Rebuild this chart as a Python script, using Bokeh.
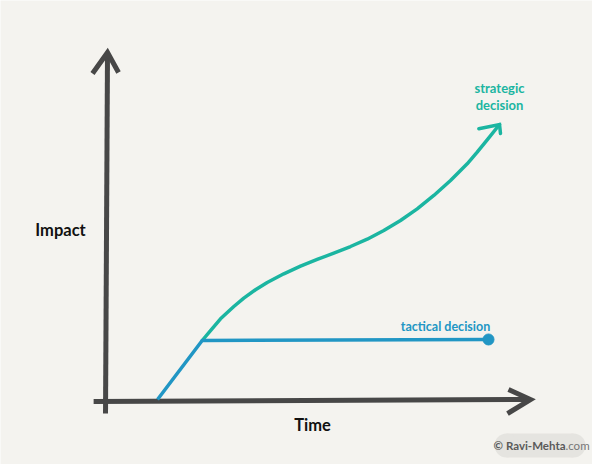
from bokeh.plotting import figure
from bokeh.models import ColumnDataSource, Range1d
from bokeh.core.properties import value
from bokeh.embed import file_html
from bokeh.resources import INLINE

# ---- data (time 0..10, impact 0..10) ----
strategic_time = [2.275, 2.471, 2.706, 3.019, 3.254, 3.529, 3.805, 4.195, 4.588, 4.981, 5.372,
                  5.765, 6.158, 6.548, 6.941, 7.334, 7.725, 8.118, 8.511, 8.746, 8.981, 9.271]
strategic_impact = [1.748, 2.034, 2.370, 2.722, 2.960, 3.201, 3.410, 3.659, 3.877, 4.069, 4.249,
                    4.441, 4.650, 4.900, 5.186, 5.521, 5.903, 6.332, 6.811, 7.143, 7.499, 7.937]
strategic_head_x = [8.784, 9.271, 9.294]
strategic_head_y = [7.817, 7.937, 7.679]

tactical_time = [1.224, 2.275, 9.012]
tactical_impact = [0.057, 1.748, 1.777]

y_axis_x = [0.0, 0.047]
y_axis_y = [-0.344, 10.0]
y_head_x = [-0.306, 0.047, 0.306]
y_head_y = [9.398, 10.0, 9.427]

x_axis_x = [-0.28, 10.0]
x_axis_y = [0.0, 0.057]
x_head_x = [9.482, 10.0, 9.459]
x_head_y = [0.344, 0.057, -0.344]

labels_text = ["Impact", "Time"]
labels_x = [-1.059, 4.871]
labels_y = [4.928, -0.659]

strategic_label = ["strategic", "decision"]
strategic_label_x = [9.271, 9.271]
strategic_label_y = [8.997, 8.510]

tactical_label = ["tactical decision"]
tactical_label_x = [8.0]
tactical_label_y = [2.149]

credit_center = [10.224, -1.261]

BG = "#f4f3ef"
AXIS = "#474747"
TEAL = "#1bb5a1"
BLUE = "#2196c4"

p = figure(width=592, height=464, output_backend="svg", toolbar_location=None,
           x_range=Range1d(-2.471, 11.459), y_range=Range1d(-1.805, 11.490),
           min_border=0, min_border_left=0, min_border_right=0,
           min_border_top=0, min_border_bottom=0)
p.xaxis.visible = False
p.yaxis.visible = False
p.grid.visible = False
p.outline_line_color = None
p.background_fill_color = BG
p.border_fill_color = BG

# axes
p.line(y_axis_x, y_axis_y, line_color=AXIS, line_width=5)
p.line(y_head_x, y_head_y, line_color=AXIS, line_width=5, line_join="miter")
p.line(x_axis_x, x_axis_y, line_color=AXIS, line_width=5)
p.line(x_head_x, x_head_y, line_color=AXIS, line_width=5, line_join="miter")

# curves
p.line(strategic_time, strategic_impact, line_color=TEAL, line_width=3.5, line_join="round", line_cap="round")
p.line(strategic_head_x, strategic_head_y, line_color=TEAL, line_width=3.5, line_join="miter", line_cap="round")
p.line(tactical_time, tactical_impact, line_color=BLUE, line_width=3.5, line_join="round")
p.scatter([tactical_time[-1]], [tactical_impact[-1]], size=11, color=BLUE)

# texts
src = ColumnDataSource(dict(x=labels_x, y=labels_y, t=labels_text))
p.text(x="x", y="y", text="t", source=src, text_font=value("Lato"), text_font_style="bold",
       text_font_size="16.5px", text_color="#111111", text_align="center", text_baseline="middle")

src2 = ColumnDataSource(dict(x=strategic_label_x, y=strategic_label_y, t=strategic_label))
p.text(x="x", y="y", text="t", source=src2, text_font=value("Lato"), text_font_style="bold",
       text_font_size="13px", text_color=TEAL, text_align="center", text_baseline="middle")

src3 = ColumnDataSource(dict(x=tactical_label_x, y=tactical_label_y, t=tactical_label))
p.text(x="x", y="y", text="t", source=src3, text_font=value("Lato"), text_font_style="bold",
       text_font_size="12.5px", text_color=BLUE, text_align="center", text_baseline="middle")

# credit pill
cx, cy = credit_center
half = 33.5 / 42.5
p.rect([cx], [cy], width=67, height=24, width_units="screen", height_units="screen",
       fill_color="#e5e4e0", line_color=None)
p.scatter([cx - half, cx + half], [cy, cy], size=24, fill_color="#e5e4e0", line_color=None)
p.text([cx + 0.6], [cy], text=["© Ravi-Mehta"], text_font=value("Lato"), text_font_style="bold",
       text_font_size="11.5px", text_color="#5a5a5a", text_align="right", text_baseline="middle")
p.text([cx + 0.6], [cy], text=[".com"], text_font=value("Lato"),
       text_font_size="11.5px", text_color="#777777", text_align="left", text_baseline="middle")

open("out.html", "w").write(file_html(p, INLINE))
